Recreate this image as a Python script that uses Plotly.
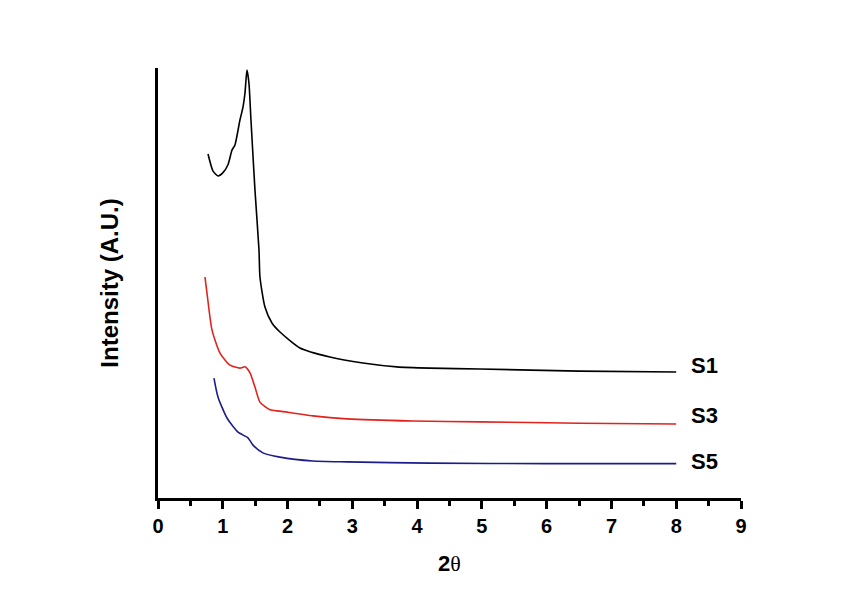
import plotly.graph_objects as go

# S1 (black)
s1_x = [0.772, 0.85, 0.926, 1.00, 1.08, 1.142, 1.188, 1.265, 1.312, 1.343, 1.373, 1.404, 1.435,
        1.497, 1.559, 1.574, 1.651, 1.759, 1.883, 2.191, 2.654, 3.164, 3.688, 4.198, 4.969,
        6.512, 8.0]
s1_y = [80.0, 76.0, 74.9, 75.6, 77.5, 80.9, 82.1, 87.9, 90.9, 94.2, 99.5, 96.5, 87.9,
        71.6, 57.7, 51.4, 44.4, 40.7, 38.6, 34.9, 32.8, 31.4, 30.5, 30.2, 30.0,
        29.5, 29.3]

# S3 (red)
s3_x = [0.725, 0.756, 0.833, 0.957, 1.111, 1.265, 1.343, 1.42, 1.497, 1.574, 1.728,
        1.883, 2.392, 2.917, 3.935, 4.969, 6.512, 8.0]
s3_y = [51.4, 47.7, 39.1, 33.7, 30.9, 30.2, 30.5, 29.1, 25.8, 22.3, 20.5,
        20.2, 19.1, 18.4, 17.9, 17.7, 17.4, 17.2]

# S5 (blue)
s5_x = [0.864, 0.926, 1.065, 1.235, 1.389, 1.466, 1.62, 1.883, 2.392, 2.917, 4.198, 6.0, 8.0]
s5_y = [27.9, 23.5, 18.6, 15.3, 14.0, 12.3, 10.5, 9.5, 8.6, 8.4, 8.1, 8.0, 8.0]

labels = ["S1", "S3", "S5"]
label_y = [30.7, 19.1, 8.6]
x_ticks = [0, 1, 2, 3, 4, 5, 6, 7, 8, 9]

FONT = "Liberation Sans, Arial"

fig = go.Figure()
for xs, ys, c in [(s1_x, s1_y, "black"), (s3_x, s3_y, "#e3221c"), (s5_x, s5_y, "#1c1c8a")]:
    fig.add_trace(go.Scatter(x=xs, y=ys, mode="lines",
                             line=dict(color=c, width=1.6, shape="spline", smoothing=0.6),
                             showlegend=False, hoverinfo="skip"))

for lab, ly in zip(labels, label_y):
    fig.add_annotation(x=8.2, y=ly, text=lab, showarrow=False, xanchor="left", yanchor="middle",
                       font=dict(family=FONT, size=22, color="black", weight="bold"))

fig.update_layout(
    width=845, height=594,
    margin=dict(l=158, r=104, t=68, b=96),
    paper_bgcolor="white", plot_bgcolor="white",
    font=dict(family=FONT, color="black"),
)
fig.update_xaxes(
    range=[0, 9], tickvals=x_ticks, ticktext=[str(v) for v in x_ticks],
    showgrid=False, zeroline=False,
    showline=True, linecolor="black", linewidth=3,
    ticks="outside", ticklen=8, tickwidth=2.5, tickcolor="black",
    minor=dict(dtick=0.5, tick0=0, ticks="outside", ticklen=5, tickwidth=2.5, tickcolor="black", showgrid=False),
    tickfont=dict(size=20, weight="bold", family=FONT),
    title=dict(text="<b>2</b><span style='font-family:Liberation Serif'>θ</span>", font=dict(size=22), standoff=20),
)
fig.update_yaxes(
    range=[0, 100], showgrid=False, zeroline=False,
    showline=True, linecolor="black", linewidth=3,
    ticks="", showticklabels=False,
    title=dict(text="<b>Intensity (A.U.)</b>", font=dict(size=24), standoff=30),
)

fig.write_html("out.html")
